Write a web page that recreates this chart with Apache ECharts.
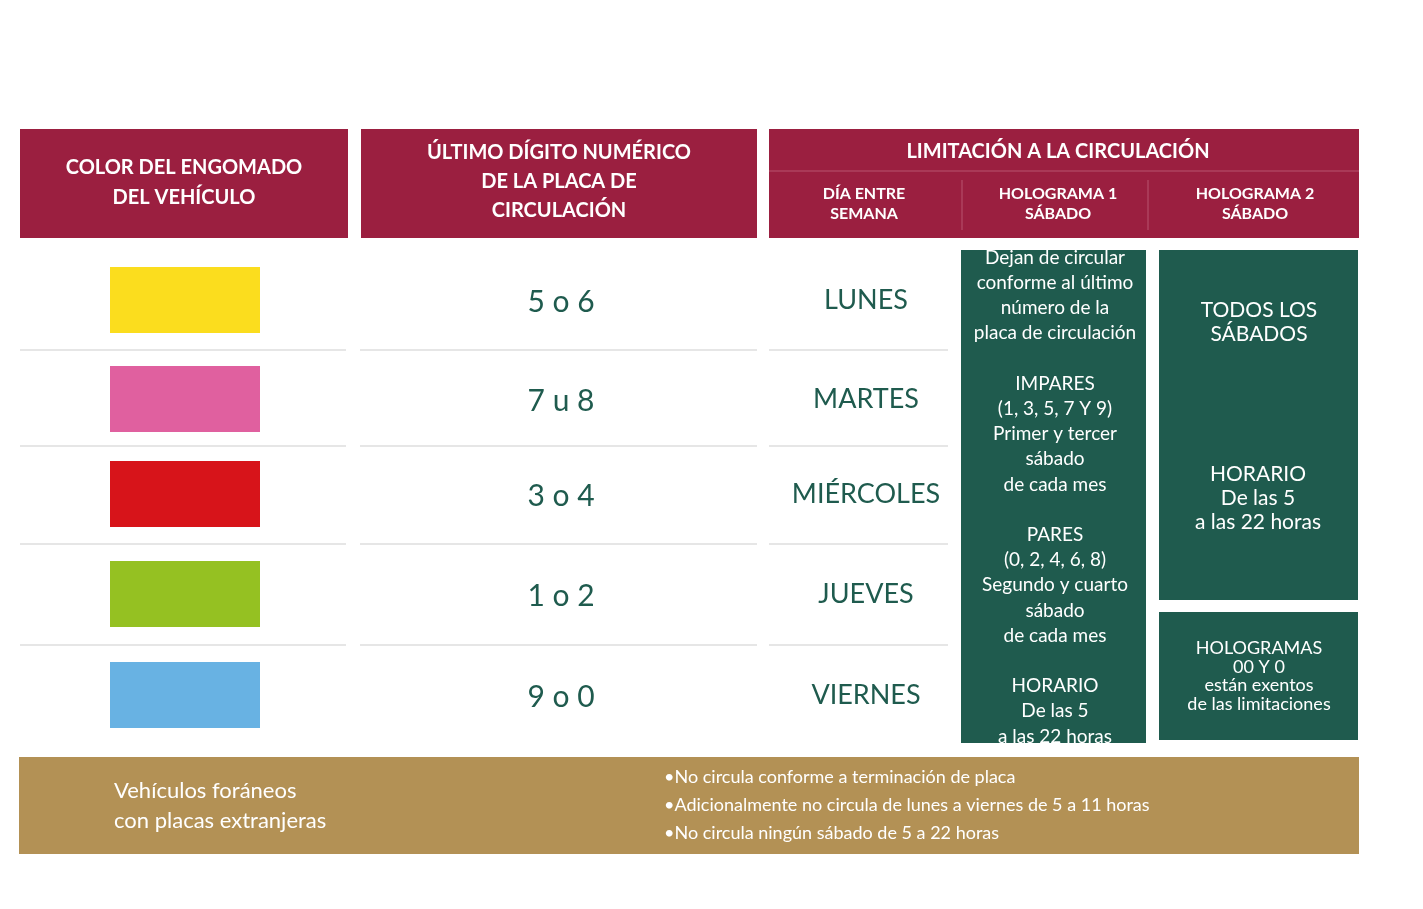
<!DOCTYPE html>
<html><head><meta charset="utf-8">
<script src="https://cdn.jsdelivr.net/npm/echarts@6/dist/echarts.min.js"></script>
<style>html,body{margin:0;padding:0;background:#fff}#c{width:1423px;height:909px}</style>
</head><body><div id="c"></div>
<script>
const stickerColors = ['#FBDD1E','#E0609F','#D7141A','#95C122','#68B2E3'];
const digits = ['5 o 6','7 u 8','3 o 4','1 o 2','9 o 0'];
const days = ['LUNES','MARTES','MIÉRCOLES','JUEVES','VIERNES'];
const headers = ['COLOR DEL ENGOMADO\nDEL VEHÍCULO','ÚLTIMO DÍGITO NUMÉRICO\nDE LA PLACA DE\nCIRCULACIÓN','LIMITACIÓN A LA CIRCULACIÓN'];
const subHeaders = ['DÍA ENTRE\nSEMANA','HOLOGRAMA 1\nSÁBADO','HOLOGRAMA 2\nSÁBADO'];
const holo1Text = 'Dejan de circular\nconforme al último\nnúmero de la\nplaca de circulación\n\nIMPARES\n(1, 3, 5, 7 Y 9)\nPrimer y tercer\nsábado\nde cada mes\n\nPARES\n(0, 2, 4, 6, 8)\nSegundo y cuarto\nsábado\nde cada mes\n\nHORARIO\nDe las 5\na las 22 horas';
const holo2Top = 'TODOS LOS\nSÁBADOS';
const holo2Mid = 'HORARIO\nDe las 5\na las 22 horas';
const holo2Bottom = 'HOLOGRAMAS\n00 Y 0\nestán exentos\nde las limitaciones';
const foreignLabel = 'Vehículos foráneos\ncon placas extranjeras';
const foreignNotes = ['•No circula conforme a terminación de placa','•Adicionalmente no circula de lunes a viernes de 5 a 11 horas','•No circula ningún sábado de 5 a 22 horas'];

const MAROON='#9B1F40', GREEN='#1F5B4E', GOLD='#B39155', F='Lato, "Open Sans", sans-serif';
const g=[];
function rect(x,y,w,h,fill){g.push({type:'rect',shape:{x,y,width:w,height:h},style:{fill}});}
function line(x1,y1,x2,y2,c,w){g.push({type:'line',shape:{x1,y1,x2,y2},style:{stroke:c,lineWidth:w||1}});}
function text(x,y,t,o){g.push({type:'text',x,y,style:Object.assign({text:t,fontFamily:F,align:'center',verticalAlign:'middle'},o)});}

rect(20,129,328,109,MAROON); rect(361,129,396,109,MAROON); rect(769,129,590,109,MAROON);
text(184,183,headers[0],{fill:'#fff',fontSize:20,fontWeight:'bold',lineHeight:30});
text(559,182,headers[1],{fill:'#fff',fontSize:20,fontWeight:'bold',lineHeight:29});
text(1058,152,headers[2],{fill:'#fff',fontSize:20,fontWeight:'bold'});
line(769,171,1359,171,'#B8546F',1); line(962,180,962,230,'#B8546F',1); line(1148,180,1148,230,'#B8546F',1);
[864,1058,1255].forEach((x,i)=>text(x,204,subHeaders[i],{fill:'#fff',fontSize:16,fontWeight:'bold',lineHeight:20}));

const rowY=[300,399,494,594,695], sep=[350,446,544,645];
sep.forEach(y=>{line(20,y,346,y,'#E6E6E6',2);line(360,y,757,y,'#E6E6E6',2);line(769,y,948,y,'#E6E6E6',2);});
rowY.forEach((y,i)=>{
  rect(110,y-33,150,66,stickerColors[i]);
  text(561,y+2,digits[i],{fill:GREEN,fontSize:30});
  text(866,y,days[i],{fill:GREEN,fontSize:27});
});
rect(961,250,185,493,GREEN);
text(1055,497,holo1Text,{fill:'#fff',fontSize:19,lineHeight:25.2});
rect(1159,250,199,350,GREEN);
text(1259,322,holo2Top,{fill:'#fff',fontSize:21,lineHeight:24});
text(1258,498,holo2Mid,{fill:'#fff',fontSize:21,lineHeight:24});
rect(1159,612,199,128,GREEN);
text(1259,676,holo2Bottom,{fill:'#fff',fontSize:18,lineHeight:18.5});
rect(19,757,1340,97,GOLD);
text(114,806,foreignLabel,{fill:'#fff',fontSize:22,lineHeight:30,align:'left'});
foreignNotes.forEach((t,i)=>text(664,777+i*28,t,{fill:'#fff',fontSize:18,align:'left'}));

const chart=echarts.init(document.getElementById('c'));
chart.setOption({animation:false,graphic:g});
</script></body></html>
